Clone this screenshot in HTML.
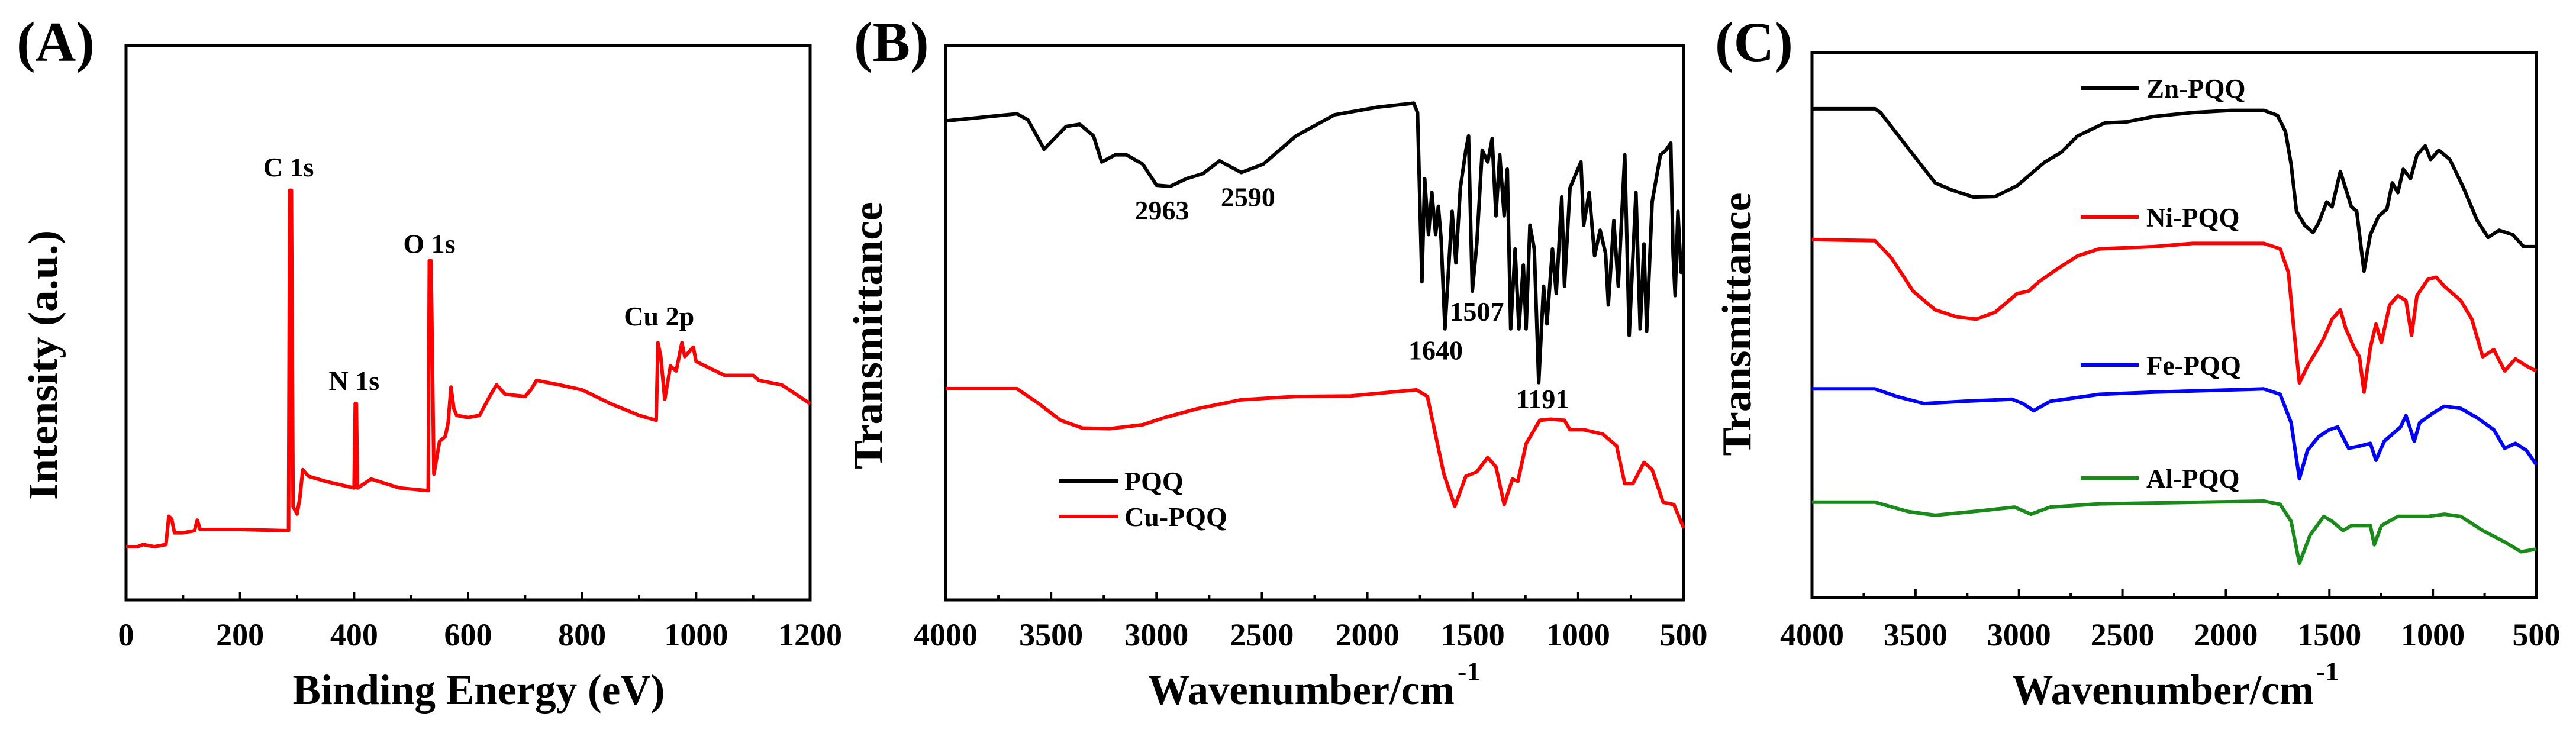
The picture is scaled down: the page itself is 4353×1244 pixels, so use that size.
<!DOCTYPE html>
<html><head><meta charset="utf-8"><style>
html,body{margin:0;padding:0;background:#fff;}
svg{display:block;font-family:"Liberation Serif",serif;font-weight:bold;}
</style></head><body>
<svg id="fig" width="4353" height="1244" viewBox="0 0 4353 1244" xmlns="http://www.w3.org/2000/svg"></svg>
<script>
// ---------- Panel A data (XPS) ----------
const aEnergy=[0,20,30,50,70,75,80,85,100,120,125,130,200,280,285,287,290,293,300,305,310,320,350,400,402,404,406,430,480,530,532,535,540,550,560,565,570,575,580,600,620,640,650,665,700,710,720,760,800,850,900,930,933,938,945,955,965,975,980,995,1000,1050,1100,1110,1150,1200];
const aIntensity=[9.6,9.6,10.0,9.6,10.0,15.1,14.6,12.1,12.1,12.5,14.4,12.7,12.7,12.5,12.5,73.9,73.9,16.8,15.5,18.5,23.5,22.3,21.4,20.2,35.4,35.4,20.2,21.8,20.2,19.7,61.2,61.2,22.7,28.6,29.5,32.0,38.4,34.5,33.3,32.9,33.3,37.1,38.8,37.1,36.7,37.9,39.6,38.8,37.9,35.4,33.3,32.4,46.4,43.9,36.2,42.2,41.3,46.4,43.9,45.6,43.0,40.5,40.5,39.6,38.8,35.4];
const aTicks=[0,200,400,600,800,1000,1200];
const aPeaks=["C 1s","N 1s","O 1s","Cu 2p"];
const aPeakX=[285,400,532,935];
const aPeakY=[76.4,37.9,62.6,49.5];

// ---------- Panel B data (FTIR) ----------
const pqqWn=[4000,3662,3610,3533,3429,3364,3299,3260,3195,3143,3065,3000,2935,2857,2779,2701,2598,2494,2338,2156,1948,1780,1762,1741,1728,1710,1694,1676,1663,1650,1632,1598,1580,1559,1533,1520,1502,1481,1455,1429,1408,1390,1372,1351,1336,1320,1299,1281,1260,1247,1229,1208,1187,1164,1148,1122,1104,1078,1065,1039,987,974,948,922,896,870,857,831,810,779,758,726,706,688,675,649,610,584,561,550,540,527,512,500];
const pqqT=[86.4,87.7,86.6,81.3,85.4,85.8,83.7,79.0,80.3,80.3,78.6,74.8,74.6,76.0,76.9,79.2,77.1,78.6,83.7,87.5,88.9,89.6,87.9,57.4,76.0,65.9,73.5,65.9,71.0,65.0,48.9,70.1,60.8,74.3,81.1,83.7,55.7,64.2,81.1,79.0,83.2,69.3,80.3,69.3,77.7,48.9,63.3,48.9,60.4,48.9,67.6,63.3,39.2,56.6,49.8,63.3,55.3,72.7,56.6,74.3,79.0,67.6,73.5,62.1,66.7,62.5,53.2,68.4,56.6,80.3,47.7,73.5,48.9,64.2,48.5,71.8,80.3,81.1,82.4,62.5,54.9,70.1,59.1,59.1];
const cuWn=[4000,3662,3558,3455,3351,3221,3065,2961,2805,2598,2338,2078,1767,1715,1689,1637,1585,1533,1481,1429,1390,1351,1312,1286,1247,1182,1130,1065,1039,974,883,818,779,740,688,649,597,546,500];
const cuT=[38.1,38.1,35.4,32.4,31.0,30.9,31.6,32.9,34.5,36.1,36.7,36.8,37.9,36.7,32.0,22.7,16.9,22.3,23.1,25.7,24.0,17.2,21.8,21.4,28.2,32.4,32.6,32.4,30.7,30.7,29.9,27.8,21.0,21.0,24.8,23.5,17.6,17.2,13.0];
const bTicks=[4000,3500,3000,2500,2000,1500,1000,500];
const bNotes=["2963","2590","1640","1507","1191"];
const bNoteX=[2974,2566,1676,1481,1169];
const bNoteY=[68.6,71.0,43.4,50.4,34.6];

// ---------- Panel C data ----------
const znWn=[4000,3696,3669,3563,3405,3325,3220,3114,3008,2876,2796,2717,2585,2479,2347,2161,1976,1817,1751,1712,1685,1659,1619,1579,1553,1513,1487,1447,1394,1368,1333,1302,1262,1222,1196,1169,1143,1108,1077,1037,1011,971,918,852,786,733,680,614,561,500];
const znT=[89.7,89.7,89.0,83.8,76.1,74.8,73.5,73.6,75.6,79.9,81.7,84.7,87.1,87.3,88.3,89.0,89.4,89.4,88.5,85.5,79.5,70.9,68.3,67.0,68.7,72.6,71.7,78.2,71.7,70.9,59.9,66.6,70.0,71.3,76.1,74.3,78.6,76.9,81.2,82.9,80.4,82.1,80.4,75.2,69.2,66.1,67.4,66.6,64.4,64.4];
const niWn=[4000,3696,3616,3511,3405,3299,3206,3114,3008,2955,2902,2823,2717,2611,2347,2161,1817,1738,1698,1672,1645,1606,1566,1527,1487,1447,1421,1381,1355,1333,1302,1275,1249,1209,1169,1130,1103,1077,1024,984,944,865,812,759,706,653,601,548,500];
const niT=[65.7,65.5,62.3,56.2,52.8,51.5,51.1,52.4,55.8,56.2,58.0,60.1,62.7,64.0,64.4,65.0,65.0,64.0,59.7,49.4,39.4,42.5,45.0,47.6,51.1,52.8,49.4,45.9,44.2,37.7,45.9,50.2,46.8,53.7,55.4,54.5,48.1,55.4,58.4,58.8,57.1,54.5,51.1,44.2,45.5,41.6,43.8,42.5,41.6];
const feWn=[4000,3696,3590,3458,3273,3034,2981,2929,2849,2611,2347,1817,1738,1685,1645,1606,1553,1500,1460,1407,1354,1302,1275,1235,1156,1130,1090,1064,998,944,865,786,706,653,601,548,500];
const feT=[38.3,38.3,36.9,35.6,36.0,36.4,35.6,34.3,36.0,37.3,37.7,38.3,37.3,32.1,21.8,27.0,29.5,30.8,31.3,27.4,27.8,28.3,25.2,28.7,31.3,33.4,28.7,32.1,33.9,35.1,34.7,33.0,30.8,27.4,28.3,27.0,24.4];
const alWn=[4000,3696,3537,3405,3193,3021,2942,2849,2611,1817,1738,1685,1645,1593,1527,1487,1434,1394,1302,1283,1249,1169,1103,1024,944,865,759,653,574,500];
const alT=[17.5,17.5,15.8,15.1,15.9,16.6,15.3,16.6,17.2,17.7,17.1,14.0,6.3,11.5,14.9,14.0,12.3,13.2,13.2,9.7,13.2,14.9,14.9,14.9,15.3,14.9,12.3,10.2,8.4,8.9];
const cTicks=[4000,3500,3000,2500,2000,1500,1000,500];
const cNames=["Zn-PQQ","Ni-PQQ","Fe-PQQ","Al-PQQ"];
const cLegY=[149,367,617,808];

const NS="http://www.w3.org/2000/svg";
const svg=document.getElementById('fig');
function mk(tag,attrs,parent){const e=document.createElementNS(NS,tag);for(const k in attrs)e.setAttribute(k,attrs[k]);(parent||svg).appendChild(e);return e;}
function txt(s,attrs,parent){const e=mk('text',attrs,parent);e.textContent=s;return e;}

function panel(name,box,x0,x1,ticks,minorStep){
  const g=mk('g',{});
  
  
  const sx=v=>box.l+(v-x0)/(x1-x0)*(box.r-box.l);
  const sy=p=>box.b-p/100*(box.b-box.t);
  const fr=mk('rect',{x:box.l,y:box.t,width:box.r-box.l,height:box.b-box.t,fill:'none',stroke:'#000','stroke-width':5},g);
  
  
  const lo=Math.min(x0,x1),hi=Math.max(x0,x1);
  for(let v=lo;v<=hi+1e-6;v+=minorStep){
    const major=ticks.indexOf(v)>=0;
    const t=mk('line',{x1:sx(v),x2:sx(v),y1:box.b,y2:box.b-(major?14:8),stroke:'#000','stroke-width':4},g);
    
    
  }
  ticks.forEach(v=>{
    const t=txt(String(v),{x:sx(v),y:1091,'text-anchor':'middle','font-size':54},g);
    
    
  });
  return {g,sx,sy};
}
function series(p,xs,ys,color,name){
  const d=xs.map((x,i)=>(i?'L':'M')+p.sx(x).toFixed(1)+','+p.sy(ys[i]).toFixed(1)).join('');
  const e=mk('path',{d,fill:'none',stroke:color,'stroke-width':6,'stroke-linejoin':'round'},p.g);
  
  
}

// Panel A
const A=panel('panel-a',{l:213,r:1369,t:77,b:1014},0,1200,aTicks,100);
series(A,aEnergy,aIntensity,'#ff0000','xps-spectrum');
aPeaks.forEach((s,i)=>{const t=txt(s,{x:A.sx(aPeakX[i]),y:A.sy(aPeakY[i]),'text-anchor':'middle','font-size':46},A.g);

});
let t;
t=txt('(A)',{x:28,y:103,'font-size':95});
t=txt('Binding Energy (eV)',{x:809,y:1190,'text-anchor':'middle','font-size':72,textLength:629,lengthAdjust:'spacingAndGlyphs'});
t=txt('Intensity (a.u.)',{x:0,y:0,'text-anchor':'middle','font-size':70,textLength:456,lengthAdjust:'spacingAndGlyphs',transform:'translate(96,617) rotate(-90)'});

// Panel B
const B=panel('panel-b',{l:1598,r:2845,t:77,b:1014},4000,500,bTicks,250);
series(B,pqqWn,pqqT,'#000','pqq-line');
series(B,cuWn,cuT,'#ff0000','cu-pqq-line');
bNotes.forEach((s,i)=>{const e=txt(s,{x:B.sx(bNoteX[i]),y:B.sy(bNoteY[i]),'text-anchor':'middle','font-size':46},B.g);

});
[['PQQ','#000',813],['Cu-PQQ','#ff0000',873]].forEach(([n,c,y])=>{
  const l=mk('line',{x1:1790,x2:1889,y1:y,y2:y,stroke:c,'stroke-width':6});
  
  
  const e=txt(n,{x:1900,y:y+16,'font-size':46});
  
  
});
t=txt('(B)',{x:1443,y:103,'font-size':95});
t=txt('Wavenumber/cm',{x:1940,y:1190,'font-size':72,textLength:518,lengthAdjust:'spacingAndGlyphs'});
t=txt('-1',{x:2463,y:1150,'font-size':46});
t=txt('Transmittance',{x:0,y:0,'text-anchor':'middle','font-size':70,textLength:452,lengthAdjust:'spacingAndGlyphs',transform:'translate(1490,567) rotate(-90)'});

// Panel C
const C=panel('panel-c',{l:3062,r:4286,t:89,b:1010},4000,500,cTicks,250);
series(C,znWn,znT,'#000','zn-pqq-line');
series(C,niWn,niT,'#ff0000','ni-pqq-line');
series(C,feWn,feT,'#0000ff','fe-pqq-line');
series(C,alWn,alT,'#1a8a1a','al-pqq-line');
const cCols=['#000','#ff0000','#0000ff','#1a8a1a'];
cNames.forEach((n,i)=>{
  const l=mk('line',{x1:3516,x2:3614,y1:cLegY[i],y2:cLegY[i],stroke:cCols[i],'stroke-width':6});
  
  
  const e=txt(n,{x:3627,y:cLegY[i]+16,'font-size':45});
  
  
});
t=txt('(C)',{x:2898,y:103,'font-size':95});
t=txt('Wavenumber/cm',{x:3400,y:1190,'font-size':72,textLength:510,lengthAdjust:'spacingAndGlyphs'});
t=txt('-1',{x:3914,y:1150,'font-size':46});
t=txt('Transmittance',{x:0,y:0,'text-anchor':'middle','font-size':70,textLength:445,lengthAdjust:'spacingAndGlyphs',transform:'translate(2958,548) rotate(-90)'});
</script>
</body></html>
